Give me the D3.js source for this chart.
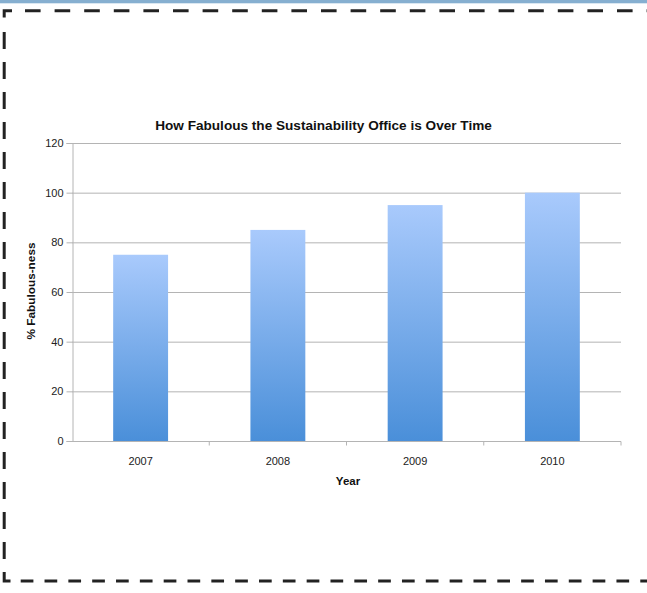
<!DOCTYPE html>
<html><head><meta charset="utf-8">
<script src="https://cdn.jsdelivr.net/npm/d3@7"></script>
<style>
html,body{margin:0;padding:0;background:#fff;}
svg{display:block;}
text{font-family:"Liberation Sans",Arial,Helvetica,sans-serif;}
</style></head>
<body>
<svg id="c" width="647" height="593"></svg>
<script>
const categories = ["2007","2008","2009","2010"];
const values = [75, 85, 95, 100];
const yTicks = [0,20,40,60,80,100,120];
const title = "How Fabulous the Sustainability Office is Over Time";
const xTitle = "Year";
const yTitle = "% Fabulous-ness";

const svg = d3.select("#c");
const W = 647, H = 593;
const m = {left:72, right:621, top:143, bottom:441};

// top strip
svg.append("rect").attr("x",0).attr("y",0).attr("width",W).attr("height",3.3).attr("fill","#86afd0");

// dashed frame
const frame = svg.append("g").attr("stroke","#222").attr("stroke-width",3).attr("fill","none");
frame.append("path").attr("d","M4.2,17.5V10.7H12");
frame.append("path").attr("d","M4.2,572V581H10.5");
frame.append("line").attr("x1",25).attr("y1",10.7).attr("x2",W+20).attr("y2",10.7).attr("stroke-dasharray","15.6 14");
frame.append("line").attr("x1",4.2).attr("y1",32).attr("x2",4.2).attr("y2",565).attr("stroke-dasharray","17 13");
frame.append("line").attr("x1",20.7).attr("y1",581).attr("x2",W+20).attr("y2",581).attr("stroke-dasharray","12.7 11.13");

const x = d3.scaleBand().domain(categories).range([m.left, m.right]).paddingInner(0.6).paddingOuter(0.3);
const y = d3.scaleLinear().domain([0,120]).range([m.bottom, m.top]);

// gradient
const defs = svg.append("defs");
const g = defs.append("linearGradient").attr("id","bg").attr("x1",0).attr("y1",0).attr("x2",0).attr("y2",1);
g.append("stop").attr("offset","0%").attr("stop-color","#a9cafc");
g.append("stop").attr("offset","100%").attr("stop-color","#4a8fd9");

// gridlines
svg.append("g").selectAll("line").data(yTicks.filter(d=>d>0)).join("line")
  .attr("x1",m.left).attr("x2",m.right).attr("y1",d=>y(d)+0.5).attr("y2",d=>y(d)+0.5)
  .attr("stroke","#b4b4b4").attr("stroke-width",1);

// bars
svg.append("g").selectAll("rect").data(categories).join("rect")
  .attr("x",d=>x(d)).attr("width",x.bandwidth())
  .attr("y",(d,i)=>y(values[i])).attr("height",(d,i)=>y(0)-y(values[i]))
  .attr("fill","url(#bg)");

// y axis
const ya = svg.append("g").attr("transform",`translate(${m.left+0.5},0)`)
  .call(d3.axisLeft(y).tickValues(yTicks).tickSize(6).tickPadding(3));
ya.select(".domain").attr("stroke","#b4b4b4");
ya.selectAll(".tick line").attr("stroke","#b4b4b4");
ya.selectAll(".tick text").attr("fill","#222").style("font-size","11px").attr("font-family","Liberation Sans, Arial, sans-serif");

// x axis
const xb = d3.scaleLinear().domain([0,categories.length]).range([m.left,m.right]);
const xa = svg.append("g").attr("transform",`translate(0,${m.bottom+0.5})`);
xa.append("line").attr("x1",m.left).attr("x2",m.right).attr("stroke","#b4b4b4");
xa.selectAll("line.t").data(d3.range(1,categories.length+1)).join("line").attr("class","t")
  .attr("x1",d=>xb(d)).attr("x2",d=>xb(d)).attr("y1",0).attr("y2",4).attr("stroke","#b4b4b4");
xa.selectAll("text").data(categories).join("text")
  .attr("x",d=>x(d)+x.bandwidth()/2).attr("y",23).attr("text-anchor","middle")
  .attr("fill","#222").style("font-size","11px").text(d=>d);

// titles
svg.append("text").attr("x",323.5).attr("y",130).attr("text-anchor","middle")
  .style("font-size","13.6px").style("font-weight","bold").attr("fill","#111").text(title);
svg.append("text").attr("x",348).attr("y",485).attr("text-anchor","middle")
  .style("font-size","11.5px").style("font-weight","bold").attr("fill","#111").text(xTitle);
svg.append("text").attr("transform","translate(34.5,291) rotate(-90)").attr("text-anchor","middle")
  .style("font-size","11.8px").style("font-weight","bold").attr("fill","#111").text(yTitle);
</script>
</body></html>
